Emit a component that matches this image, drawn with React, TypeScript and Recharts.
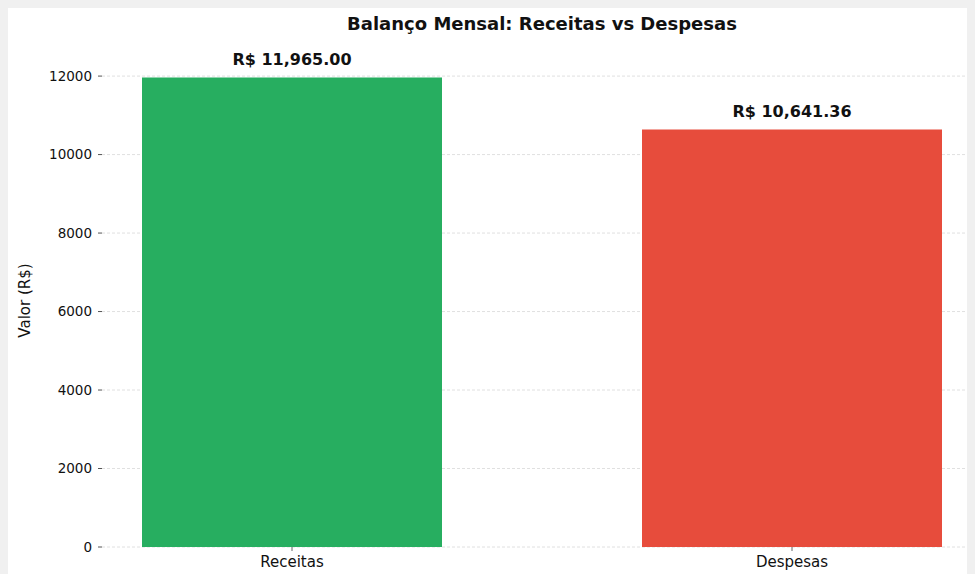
import React, { useEffect } from "react";
import { BarChart, Bar, XAxis, YAxis, CartesianGrid, Cell, LabelList } from "recharts";

const categories = ["Receitas", "Despesas"];
const values = [11965.0, 10641.36];
const barColors = ["#27ae60", "#e74c3c"];
const yTicks = [0, 2000, 4000, 6000, 8000, 10000, 12000];

const data = categories.map((name, i) => ({ x: i, name, valor: values[i] }));

const FONT = "'DejaVu Sans', sans-serif";

const formatBRL = (v: number) =>
  "R$ " + v.toLocaleString("en-US", { minimumFractionDigits: 2, maximumFractionDigits: 2 });

const App = () => {
  useEffect(() => {
    document.body.style.background = "#f0f0f0";
  }, []);

  return (
    <div
      style={{
        position: "relative",
        width: 967,
        height: 566,
        overflow: "hidden",
        background: "#ffffff",
        fontFamily: FONT,
      }}
    >
      <div
        style={{
          position: "absolute",
          left: 94,
          width: 880,
          top: 5,
          textAlign: "center",
          fontSize: 18,
          fontWeight: "bold",
          color: "#111",
        }}
      >
        Balanço Mensal: Receitas vs Despesas
      </div>
      <BarChart
        width={990}
        height={566}
        data={data}
        margin={{ top: 46, right: 16, left: 0, bottom: 0 }}
        style={{ fontFamily: FONT }}
      >
        <CartesianGrid
          vertical={false}
          horizontalValues={yTicks}
          stroke="#e0e0e0"
          strokeDasharray="3 2"
        />
        <XAxis
          dataKey="x"
          type="number"
          domain={[-0.38, 1.38]}
          ticks={[0, 1]}
          tickFormatter={(v: number) => categories[v]}
          axisLine={false}
          tickSize={4}
          tickMargin={5}
          height={27}
          tick={{ fontSize: 15, fill: "#111" }}
          tickLine={{ stroke: "#666" }}
        />
        <YAxis
          width={94}
          domain={[0, 12563]}
          ticks={yTicks}
          axisLine={false}
          tickSize={4}
          tickMargin={6}
          tick={{ fontSize: 13.5, fill: "#111" }}
          tickLine={{ stroke: "#555" }}
          label={{
            value: "Valor (R$)",
            angle: -90,
            position: "insideLeft",
            offset: 17,
            style: { fontSize: 15, fill: "#111", textAnchor: "middle" },
          }}
        />
        <Bar dataKey="valor" barSize={300} isAnimationActive={false}>
          {data.map((d, i) => (
            <Cell key={d.name} fill={barColors[i]} />
          ))}
          <LabelList
            dataKey="valor"
            position="top"
            offset={12}
            formatter={(v: any) => formatBRL(Number(v))}
            style={{ fontSize: 16, fontWeight: "bold", fill: "#111" }}
          />
        </Bar>
      </BarChart>
    </div>
  );
};

export default App;
